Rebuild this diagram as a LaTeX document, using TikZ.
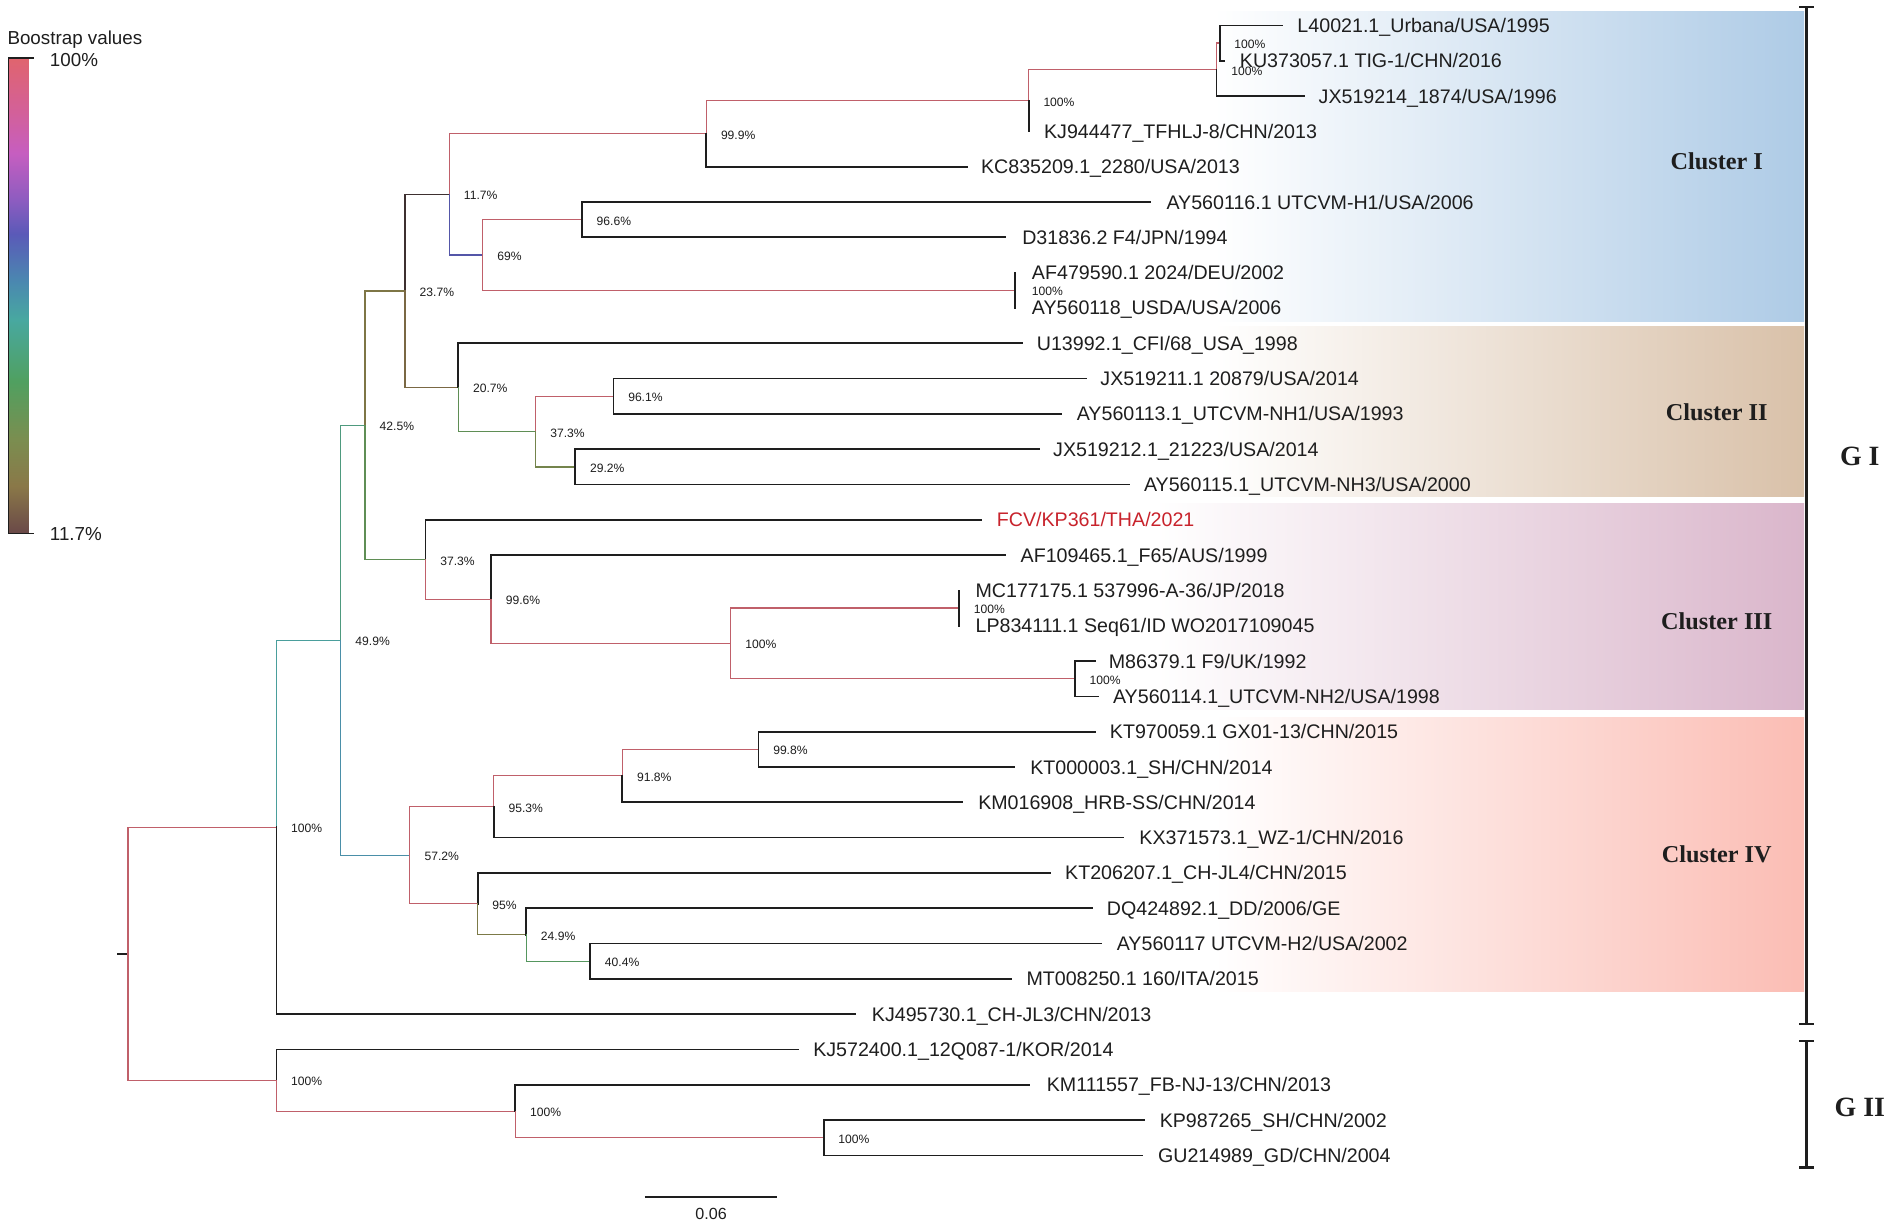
\documentclass[tikz,border=0pt]{standalone}
\usepackage{fontspec}
\setmainfont{Liberation Sans}
\newfontfamily\tnr{Liberation Serif}
\definecolor{cR}{HTML}{C0606A}
\definecolor{c69}{HTML}{5456A8}
\definecolor{c57}{HTML}{4A8FA8}
\definecolor{c49}{HTML}{4A9E9C}
\definecolor{c42}{HTML}{4E9A7E}
\definecolor{c40}{HTML}{55965E}
\definecolor{c37}{HTML}{5F8E55}
\definecolor{c29}{HTML}{74844C}
\definecolor{c24}{HTML}{7C7A48}
\definecolor{c23}{HTML}{7E7646}
\definecolor{c20}{HTML}{7A6844}
\definecolor{c11}{HTML}{3E3030}
\definecolor{bkline}{HTML}{1E1E1E}
\definecolor{fcvred}{HTML}{C8232C}
\definecolor{clI}{HTML}{AECBE6}
\definecolor{clII}{HTML}{D9C1A9}
\definecolor{clIII}{HTML}{DAB6CB}
\definecolor{clIV}{HTML}{FBBDB4}
\definecolor{cb0}{HTML}{E0646E}
\definecolor{cb1}{HTML}{D2609C}
\definecolor{cb2}{HTML}{C65EC0}
\definecolor{cb3}{HTML}{8C5CC0}
\definecolor{cb4}{HTML}{5A5AB8}
\definecolor{cb5}{HTML}{4A88B0}
\definecolor{cb6}{HTML}{48A8A0}
\definecolor{cb7}{HTML}{50A060}
\definecolor{cb8}{HTML}{7A8E50}
\definecolor{cb9}{HTML}{8A7848}
\definecolor{cb10}{HTML}{6A4848}
\pgfdeclareverticalshading{cbarshade}{100bp}{color(0bp)=(cb10); color(25bp)=(cb10); color(30bp)=(cb9); color(35bp)=(cb8); color(41bp)=(cb7); color(47.5bp)=(cb6); color(51.5bp)=(cb5); color(56.5bp)=(cb4); color(60bp)=(cb3); color(65bp)=(cb2); color(69bp)=(cb1); color(75bp)=(cb0); color(100bp)=(cb0)}
\pgfdeclarehorizontalshading{shI}{100bp}{color(0bp)=(white); color(35bp)=(white); color(75bp)=(clI); color(100bp)=(clI)}
\pgfdeclarehorizontalshading{shII}{100bp}{color(0bp)=(white); color(35bp)=(white); color(75bp)=(clII); color(100bp)=(clII)}
\pgfdeclarehorizontalshading{shIII}{100bp}{color(0bp)=(white); color(31bp)=(white); color(75bp)=(clIII); color(100bp)=(clIII)}
\pgfdeclarehorizontalshading{shIV}{100bp}{color(0bp)=(white); color(35bp)=(white); color(75bp)=(clIV); color(100bp)=(clIV)}
\newcommand\leaffont{\fontsize{16.2pt}{18pt}\selectfont}
\newcommand\bsfont{\fontsize{10pt}{12pt}\selectfont}
\begin{document}
\begin{tikzpicture}[x=1pt,y=-1pt,
  bk/.style={draw=bkline,line width=1.4pt,line cap=rect},
  br/.style={draw=#1,line width=1.1pt,line cap=rect},
  leaf/.style={anchor=west,inner sep=0pt,font=\leaffont,text height=11.6pt,text depth=0pt,text=bkline},
  bs/.style={anchor=west,inner sep=0pt,font=\bsfont,text height=7.2pt,text depth=0pt,text=bkline},
  clab/.style={inner sep=0pt,font=\tnr\bfseries\fontsize{20pt}{24pt}\selectfont,text height=13.2pt,text depth=0pt,text=bkline},
  glab/.style={inner sep=0pt,font=\tnr\bfseries\fontsize{23pt}{27pt}\selectfont,text height=15.2pt,text depth=0pt,text=bkline},
  brk/.style={draw=bkline,line width=1.8pt},
  cbtxt/.style={anchor=west,inner sep=0pt,font=\fontsize{15.5pt}{18pt}\selectfont,text height=11.1pt,text depth=0pt,text=bkline}]
\useasboundingbox (0,0) rectangle (1568,1012);
\fill[white] (0,0) rectangle (1568,1012);
% cluster backgrounds
\shade[shading=shI] (880,9.2) rectangle (1488,264.8);
\shade[shading=shII] (880,269.6) rectangle (1488,409.5);
\shade[shading=shIII] (880,415.3) rectangle (1488,585.4);
\shade[shading=shIV] (880,591.8) rectangle (1488,818.2);
% colour bar
\shade[shading=cbarshade] (7.7,48) rectangle (23.4,440);
\coordinate (cbt) at (7,48);
\coordinate (cbb) at (7,440);
\draw[bkline,line width=1.2pt] ([xshift=21pt]cbt) -- (cbt) -- (cbb) -- ([xshift=21pt]cbb);
\node[cbtxt] (cbtitle) at (6,31) {Boostrap values};
\node[cbtxt] (cbhi) at (41,49) {100\%};
\node[cbtxt] (cblo) at (41,440) {11.7\%};
% internal nodes
\coordinate (root0) at (96.8,786.7);
\coordinate (A) at (105.6,786.7);
\coordinate (B) at (228,682.29);
\coordinate (C) at (228,891.11);
\coordinate (D) at (281,528.07);
\coordinate (E) at (301,350.71);
\coordinate (F) at (338,705.44);
\coordinate (G) at (334,239.9);
\coordinate (H) at (351,461.52);
\coordinate (I) at (370.5,160.26);
\coordinate (J) at (378,319.53);
\coordinate (K) at (582.5,110.2);
\coordinate (L) at (398,210.31);
\coordinate (M) at (480,181.19);
\coordinate (N) at (837,239.44);
\coordinate (O) at (848.5,82.89);
\coordinate (P) at (1003.5,57.41);
\coordinate (Q) at (1006,35.56);
\coordinate (R) at (441.7,355.94);
\coordinate (S) at (506,326.81);
\coordinate (T) at (474.5,385.06);
\coordinate (U) at (405,494.28);
\coordinate (V) at (602.7,530.69);
\coordinate (W) at (791,501.56);
\coordinate (X) at (886.6,559.81);
\coordinate (Y) at (407.3,665.39);
\coordinate (AA) at (513.3,639.91);
\coordinate (AB) at (625.6,618.06);
\coordinate (Z) at (394,745.48);
\coordinate (AC) at (434,770.97);
\coordinate (AD) at (486.8,792.81);
\coordinate (AE) at (425,916.59);
\coordinate (AF) at (679.4,938.44);
% leaf ends
\coordinate (l1) at (1057.5,21);
\coordinate (l2) at (1010,50.125);
\coordinate (l3) at (1076,79.25);
\coordinate (l4) at (848.5,108.375);
\coordinate (l5) at (797.6,137.5);
\coordinate (l6) at (948.5,166.625);
\coordinate (l7) at (829,195.75);
\coordinate (l8) at (837,224.875);
\coordinate (l9) at (837,254);
\coordinate (l10) at (842.7,283.125);
\coordinate (l11) at (896,312.25);
\coordinate (l12) at (875,341.375);
\coordinate (l13) at (857,370.5);
\coordinate (l14) at (931.7,399.625);
\coordinate (l15) at (809.5,428.75);
\coordinate (l16) at (829,457.875);
\coordinate (l17) at (791,487);
\coordinate (l18) at (791,516.125);
\coordinate (l19) at (903,545.25);
\coordinate (l20) at (906,574.375);
\coordinate (l21) at (903,603.5);
\coordinate (l22) at (836.4,632.625);
\coordinate (l23) at (793.8,661.75);
\coordinate (l24) at (926.4,690.875);
\coordinate (l25) at (866.4,720);
\coordinate (l26) at (900.5,749.125);
\coordinate (l27) at (908,778.25);
\coordinate (l28) at (834.2,807.375);
\coordinate (l29) at (705.4,836.5);
\coordinate (l30) at (658,865.625);
\coordinate (l31) at (849,894.75);
\coordinate (l32) at (943.7,923.875);
\coordinate (l33) at (942,953);
% branches
\draw[bk] (root0) -- (A);
\draw[br=cR] (A) |- (B);
\draw[br=cR] (A) |- (C);
\draw[br=c49] (B) |- (D);
\draw[bk] (B) |- (l29);
\draw[br=c42] (D) |- (E);
\draw[br=c57] (D) |- (F);
\draw[br=c23] (E) |- (G);
\draw[br=c37] (E) |- (H);
\draw[br=c11] (G) |- (I);
\draw[br=c20] (G) |- (J);
\draw[br=cR] (I) |- (K);
\draw[br=c69] (I) |- (L);
\draw[br=cR] (K) |- (O);
\draw[bk] (K) |- (l5);
\draw[br=cR] (O) |- (P);
\draw[bk] (O) |- (l4);
\draw[br=cR] (P) |- (Q);
\draw[bk] (P) |- (l3);
\draw[bk] (Q) |- (l1);
\draw[bk] (Q) |- (l2);
\draw[br=cR] (L) |- (M);
\draw[br=cR] (L) |- (N);
\draw[bk] (M) |- (l6);
\draw[bk] (M) |- (l7);
\draw[bk] (N) |- (l8);
\draw[bk] (N) |- (l9);
\draw[bk] (J) |- (l10);
\draw[br=c37] (J) |- (R);
\draw[br=cR] (R) |- (S);
\draw[br=c29] (R) |- (T);
\draw[bk] (S) |- (l11);
\draw[bk] (S) |- (l12);
\draw[bk] (T) |- (l13);
\draw[bk] (T) |- (l14);
\draw[bk] (H) |- (l15);
\draw[br=cR] (H) |- (U);
\draw[bk] (U) |- (l16);
\draw[br=cR] (U) |- (V);
\draw[br=cR] (V) |- (W);
\draw[br=cR] (V) |- (X);
\draw[bk] (W) |- (l17);
\draw[bk] (W) |- (l18);
\draw[bk] (X) |- (l19);
\draw[bk] (X) |- (l20);
\draw[br=cR] (F) |- (Y);
\draw[br=cR] (F) |- (Z);
\draw[br=cR] (Y) |- (AA);
\draw[bk] (Y) |- (l24);
\draw[br=cR] (AA) |- (AB);
\draw[bk] (AA) |- (l23);
\draw[bk] (AB) |- (l21);
\draw[bk] (AB) |- (l22);
\draw[bk] (Z) |- (l25);
\draw[br=c24] (Z) |- (AC);
\draw[bk] (AC) |- (l26);
\draw[br=c40] (AC) |- (AD);
\draw[bk] (AD) |- (l27);
\draw[bk] (AD) |- (l28);
\draw[bk] (C) |- (l30);
\draw[br=cR] (C) |- (AE);
\draw[bk] (AE) |- (l31);
\draw[br=cR] (AE) |- (AF);
\draw[bk] (AF) |- (l32);
\draw[bk] (AF) |- (l33);
% bootstrap labels
\node[bs] (bB) at ([xshift=12pt,yshift=-1pt]B) {100\%};
\node[bs] (bC) at ([xshift=12pt,yshift=-1pt]C) {100\%};
\node[bs] (bD) at ([xshift=12pt,yshift=-1pt]D) {49.9\%};
\node[bs] (bE) at ([xshift=12pt,yshift=-1pt]E) {42.5\%};
\node[bs] (bF) at ([xshift=12pt,yshift=-1pt]F) {57.2\%};
\node[bs] (bG) at ([xshift=12pt,yshift=-1pt]G) {23.7\%};
\node[bs] (bH) at ([xshift=12pt,yshift=-1pt]H) {37.3\%};
\node[bs] (bI) at ([xshift=12pt,yshift=-1pt]I) {11.7\%};
\node[bs] (bJ) at ([xshift=12pt,yshift=-1pt]J) {20.7\%};
\node[bs] (bK) at ([xshift=12pt,yshift=-1pt]K) {99.9\%};
\node[bs] (bL) at ([xshift=12pt,yshift=-1pt]L) {69\%};
\node[bs] (bM) at ([xshift=12pt,yshift=-1pt]M) {96.6\%};
\node[bs] (bN) at ([xshift=14pt,yshift=-1pt]N) {100\%};
\node[bs] (bO) at ([xshift=12pt,yshift=-1pt]O) {100\%};
\node[bs] (bP) at ([xshift=12pt,yshift=-1pt]P) {100\%};
\node[bs] (bQ) at ([xshift=12pt,yshift=-1pt]Q) {100\%};
\node[bs] (bR) at ([xshift=12pt,yshift=-1pt]R) {37.3\%};
\node[bs] (bS) at ([xshift=12pt,yshift=-1pt]S) {96.1\%};
\node[bs] (bT) at ([xshift=12pt,yshift=-1pt]T) {29.2\%};
\node[bs] (bU) at ([xshift=12pt,yshift=-1pt]U) {99.6\%};
\node[bs] (bV) at ([xshift=12pt,yshift=-1pt]V) {100\%};
\node[bs] (bW) at ([xshift=12pt,yshift=-1pt]W) {100\%};
\node[bs] (bX) at ([xshift=12pt,yshift=-1pt]X) {100\%};
\node[bs] (bY) at ([xshift=12pt,yshift=-1pt]Y) {95.3\%};
\node[bs] (bAA) at ([xshift=12pt,yshift=-1pt]AA) {91.8\%};
\node[bs] (bAB) at ([xshift=12pt,yshift=-1pt]AB) {99.8\%};
\node[bs] (bZ) at ([xshift=12pt,yshift=-1pt]Z) {95\%};
\node[bs] (bAC) at ([xshift=12pt,yshift=-1pt]AC) {24.9\%};
\node[bs] (bAD) at ([xshift=12pt,yshift=-1pt]AD) {40.4\%};
\node[bs] (bAE) at ([xshift=12pt,yshift=-1pt]AE) {100\%};
\node[bs] (bAF) at ([xshift=12pt,yshift=-1pt]AF) {100\%};
% leaf labels
\node[leaf] (t1) at (1070,21) {L40021.1\_Urbana/USA/1995};
\node[leaf] (t2) at (1022.5,50.125) {KU373057.1 TIG-1/CHN/2016};
\node[leaf] (t3) at (1087.5,79.25) {JX519214\_1874/USA/1996};
\node[leaf] (t4) at (861,108.375) {KJ944477\_TFHLJ-8/CHN/2013};
\node[leaf] (t5) at (809,137.5) {KC835209.1\_2280/USA/2013};
\node[leaf] (t6) at (962,166.625) {AY560116.1 UTCVM-H1/USA/2006};
\node[leaf] (t7) at (843,195.75) {D31836.2 F4/JPN/1994};
\node[leaf] (t8) at (851,224.875) {AF479590.1 2024/DEU/2002};
\node[leaf] (t9) at (851,254) {AY560118\_USDA/USA/2006};
\node[leaf] (t10) at (855,283.125) {U13992.1\_CFI/68\_USA\_1998};
\node[leaf] (t11) at (907.5,312.25) {JX519211.1 20879/USA/2014};
\node[leaf] (t12) at (888,341.375) {AY560113.1\_UTCVM-NH1/USA/1993};
\node[leaf] (t13) at (868.5,370.5) {JX519212.1\_21223/USA/2014};
\node[leaf] (t14) at (943.4,399.625) {AY560115.1\_UTCVM-NH3/USA/2000};
\node[leaf,text=fcvred] (t15) at (822,428.75) {FCV/KP361/THA/2021};
\node[leaf] (t16) at (841.7,457.875) {AF109465.1\_F65/AUS/1999};
\node[leaf] (t17) at (804.5,487) {MC177175.1 537996-A-36/JP/2018};
\node[leaf] (t18) at (804.5,516.125) {LP834111.1 Seq61/ID WO2017109045};
\node[leaf] (t19) at (914.4,545.25) {M86379.1 F9/UK/1992};
\node[leaf] (t20) at (917.9,574.375) {AY560114.1\_UTCVM-NH2/USA/1998};
\node[leaf] (t21) at (915.3,603.5) {KT970059.1 GX01-13/CHN/2015};
\node[leaf] (t22) at (849.6,632.625) {KT000003.1\_SH/CHN/2014};
\node[leaf] (t23) at (806.7,661.75) {KM016908\_HRB-SS/CHN/2014};
\node[leaf] (t24) at (939.6,690.875) {KX371573.1\_WZ-1/CHN/2016};
\node[leaf] (t25) at (878.4,720) {KT206207.1\_CH-JL4/CHN/2015};
\node[leaf] (t26) at (912.8,749.125) {DQ424892.1\_DD/2006/GE};
\node[leaf] (t27) at (921,778.25) {AY560117 UTCVM-H2/USA/2002};
\node[leaf] (t28) at (846.5,807.375) {MT008250.1 160/ITA/2015};
\node[leaf] (t29) at (719,836.5) {KJ495730.1\_CH-JL3/CHN/2013};
\node[leaf] (t30) at (670.6,865.625) {KJ572400.1\_12Q087-1/KOR/2014};
\node[leaf] (t31) at (863.3,894.75) {KM111557\_FB-NJ-13/CHN/2013};
\node[leaf] (t32) at (956.4,923.875) {KP987265\_SH/CHN/2002};
\node[leaf] (t33) at (955,953) {GU214989\_GD/CHN/2004};
% cluster labels
\node[clab] (cl1) at (1416,133) {Cluster I};
\node[clab] (cl2) at (1416,340) {Cluster II};
\node[clab] (cl3) at (1416,513) {Cluster III};
\node[clab] (cl4) at (1416,705) {Cluster IV};
% genogroup brackets
\coordinate (g1t) at (1490,5.8);
\coordinate (g1b) at (1490,844.5);
\coordinate (g2t) at (1490,858.4);
\coordinate (g2b) at (1490,963);
\draw[brk] (g1t) -- (g1b);
\draw[brk] ([xshift=-6pt]g1t) -- ([xshift=6pt]g1t);
\draw[brk] ([xshift=-6pt]g1b) -- ([xshift=6pt]g1b);
\draw[brk] (g2t) -- (g2b);
\draw[brk] ([xshift=-6pt]g2t) -- ([xshift=6pt]g2t);
\draw[brk] ([xshift=-6pt]g2b) -- ([xshift=6pt]g2b);
\node[glab] (gI) at (1534,376) {G I};
\node[glab] (gII) at (1534,913) {G II};
% scale bar
\coordinate (sb1) at (532,987.6);
\coordinate (sb2) at (641,987.6);
\draw[draw=bkline,line width=1.5pt] (sb1) -- (sb2);
\node[inner sep=0pt,font=\fontsize{13.3pt}{16pt}\selectfont,text height=9.5pt,text depth=0pt,text=bkline] (sbl) at (586.5,1001) {0.06};
\end{tikzpicture}
\end{document}
